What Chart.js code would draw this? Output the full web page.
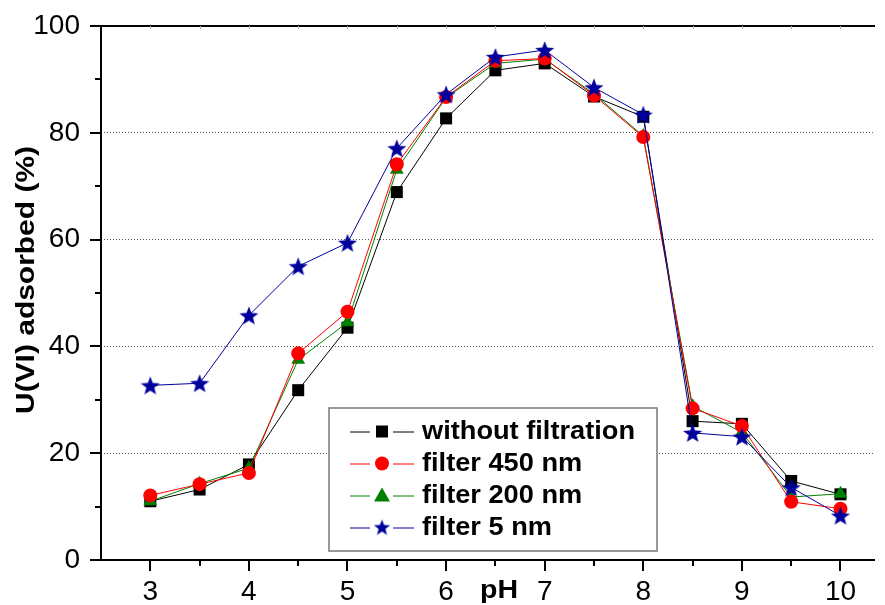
<!DOCTYPE html>
<html>
<head>
<meta charset="utf-8">
<script src="https://cdn.jsdelivr.net/npm/chart.js@4.4.1/dist/chart.umd.min.js"></script>
<style>
  html, body { margin: 0; padding: 0; background: #fff; }
  #wrap { width: 885px; height: 605px; }
</style>
</head>
<body>
<div id="wrap"><canvas id="adsChart"></canvas></div>
<script>
// pH values (x axis)
const phValues = [3, 3.5, 4, 4.5, 5, 5.5, 6, 6.5, 7, 7.5, 8, 8.5, 9, 9.5, 10];

// U(VI) adsorbed (%) for each series
const withoutFiltration = [11.0, 13.2, 17.9, 31.8, 43.5, 68.9, 82.7, 91.7, 93.0, 86.8, 83.0, 26.0, 25.5, 14.8, 12.3];
const filter450 = [12.1, 14.2, 16.3, 38.7, 46.5, 74.1, 86.7, 93.5, 93.9, 87.0, 79.2, 28.4, 25.1, 10.9, 9.6];
const filter200 = [11.0, 14.3, 17.2, 37.5, 44.5, 73.1, 86.6, 93.0, 93.8, 87.3, 79.4, 28.8, 23.9, 11.8, 12.4];
const filter5 = [32.7, 33.1, 45.8, 55.0, 59.4, 77.1, 87.2, 94.2, 95.5, 88.5, 83.4, 23.8, 23.1, 13.6, 8.3];

// axis ticks
const xLabels = [3, 4, 5, 6, 7, 8, 9, 10];
const yLabels = [0, 20, 40, 60, 80, 100];

const seriesNames = ['without filtration', 'filter 450 nm', 'filter 200 nm', 'filter 5 nm'];

function toPoints(ys) {
    return ys.map((y, i) => ({ x: phValues[i], y: y }));
}

// filled five point star (Chart.js 'star' is only an outline asterisk)
function makeStar(size, color) {
    const c = document.createElement('canvas');
    c.width = size; c.height = size;
    const g = c.getContext('2d');
    const cx = size / 2, cy = size / 2 + 1, R = size / 2, r = R * 0.42;
    g.beginPath();
    for (let i = 0; i < 10; i++) {
        const a = -Math.PI / 2 + i * Math.PI / 5;
        const rad = i % 2 === 0 ? R : r;
        g.lineTo(cx + rad * Math.cos(a), cy + rad * Math.sin(a));
    }
    g.closePath();
    g.fillStyle = color;
    g.fill();
    return c;
}
const starBig = makeStar(20, '#00009C');
const starSmall = makeStar(17, '#00009C');

// draws the little legend markers
function drawMarker(ctx, kind, x, y, color) {
    ctx.save();
    ctx.fillStyle = color;
    ctx.beginPath();
    if (kind === 'rect') {
        ctx.rect(x - 6, y - 6, 12, 12);
        ctx.fill();
    } else if (kind === 'circle') {
        ctx.arc(x, y, 7, 0, Math.PI * 2);
        ctx.fill();
    } else if (kind === 'triangle') {
        ctx.moveTo(x, y - 8);
        ctx.lineTo(x + 8, y + 6);
        ctx.lineTo(x - 8, y + 6);
        ctx.closePath();
        ctx.fill();
    } else {
        ctx.drawImage(starSmall, x - 8.5, y - 9);
    }
    ctx.restore();
}

// text squeezed/stretched to a wanted width (the original font is a wide Arial)
function fitText(ctx, text, x, y, width) {
    const w = ctx.measureText(text).width;
    ctx.save();
    ctx.translate(x, y);
    ctx.scale(width / w, 1);
    ctx.fillText(text, 0, 0);
    ctx.restore();
}

const legendKinds = ['rect', 'circle', 'triangle', 'star'];
const legendColors = ['#000000', '#FF0000', '#008000', '#00009C'];
const FONT = '"Liberation Sans", Arial, sans-serif';

// custom plugin: axis ticks, titles, legend box, frame
const decorPlugin = {
    id: 'decor',
    afterDraw(chart) {
        const ctx = chart.ctx;
        const xs = chart.scales.x, ys = chart.scales.y;
        const a = chart.chartArea;
        ctx.save();
        ctx.strokeStyle = '#000';
        ctx.lineWidth = 2;
        // axis lines
        ctx.beginPath();
        ctx.moveTo(a.left, a.top);
        ctx.lineTo(a.left, a.bottom);
        ctx.lineTo(a.right, a.bottom);
        ctx.moveTo(a.left, a.top);
        ctx.lineTo(a.right, a.top);
        ctx.stroke();
        // x ticks (major and minor)
        ctx.beginPath();
        for (let v = 3; v <= 10.01; v += 0.5) {
            const px = Math.round(xs.getPixelForValue(v));
            const len = Number.isInteger(v) ? 11 : 6;
            ctx.moveTo(px, a.bottom);
            ctx.lineTo(px, a.bottom + len);
        }
        // y ticks
        for (let v = 0; v <= 100; v += 10) {
            const py = Math.round(ys.getPixelForValue(v));
            const len = v % 20 === 0 ? 11 : 6;
            ctx.moveTo(a.left, py);
            ctx.lineTo(a.left - len, py);
        }
        ctx.stroke();
        // top minor ticks (faint)
        ctx.strokeStyle = '#aaa';
        ctx.lineWidth = 1;
        ctx.beginPath();
        for (let v = 3; v <= 10.01; v += 0.5) {
            const px = Math.round(xs.getPixelForValue(v)) + 0.5;
            ctx.moveTo(px, a.top);
            ctx.lineTo(px, a.top + 3);
        }
        ctx.stroke();

        // axis titles
        ctx.fillStyle = '#000';
        ctx.textAlign = 'center';
        ctx.textBaseline = 'middle';
        ctx.font = 'bold 26px ' + FONT;
        fitText(ctx, 'pH', 499, 591, 38);
        ctx.save();
        ctx.translate(27, 280);
        ctx.rotate(-Math.PI / 2);
        ctx.font = 'bold 25px ' + FONT;
        fitText(ctx, 'U(VI) adsorbed (%)', 0, 0, 268);
        ctx.restore();

        // legend box
        const bx = 329, by = 408, bw = 328, bh = 143;
        ctx.fillStyle = '#fff';
        ctx.fillRect(bx, by, bw, bh);
        ctx.strokeStyle = '#777';
        ctx.lineWidth = 1.5;
        ctx.strokeRect(bx, by, bw, bh);
        ctx.font = 'bold 25px ' + FONT;
        ctx.textAlign = 'left';
        const rowY = [431.5, 463.5, 495.5, 527.5];
        const scaleX = 213 / ctx.measureText(seriesNames[0]).width;
        for (let i = 0; i < seriesNames.length; i++) {
            const y = rowY[i];
            ctx.strokeStyle = legendColors[i];
            ctx.lineWidth = 1;
            ctx.beginPath();
            ctx.moveTo(350, y + 0.5); ctx.lineTo(370, y + 0.5);
            ctx.moveTo(393, y + 0.5); ctx.lineTo(414, y + 0.5);
            ctx.stroke();
            drawMarker(ctx, legendKinds[i], 382, y, legendColors[i]);
            ctx.fillStyle = '#000';
            fitText(ctx, seriesNames[i], 422, y + 1, ctx.measureText(seriesNames[i]).width * scaleX);
        }
        ctx.restore();
    }
};

const ctx = document.getElementById('adsChart').getContext('2d');

const adsChart = new Chart(ctx, {
    type: 'line',
    data: {
        datasets: [
            {
                label: seriesNames[0],
                data: toPoints(withoutFiltration),
                borderColor: '#000000',
                backgroundColor: '#000000',
                pointStyle: 'rect',
                pointRadius: 8.5,
                order: 4
            },
            {
                label: seriesNames[1],
                data: toPoints(filter450),
                borderColor: '#FF0000',
                backgroundColor: '#FF0000',
                pointStyle: 'circle',
                pointRadius: 7,
                order: 2
            },
            {
                label: seriesNames[2],
                data: toPoints(filter200),
                borderColor: '#008000',
                backgroundColor: '#008000',
                pointStyle: 'triangle',
                pointRadius: 8,
                order: 3
            },
            {
                label: seriesNames[3],
                data: toPoints(filter5),
                borderColor: '#00009C',
                backgroundColor: '#00009C',
                pointStyle: starBig,
                pointRadius: 10,
                order: 1
            }
        ]
    },
    options: {
        responsive: true,
        maintainAspectRatio: false,
        animation: false,
        events: [],
        layout: { padding: { top: 26, left: 0, right: 0, bottom: 0 } },
        elements: {
            line: { borderWidth: 1, tension: 0 },
            point: { borderWidth: 0, hoverRadius: 0 }
        },
        plugins: {
            legend: { display: false },
            tooltip: { enabled: false }
        },
        scales: {
            x: {
                type: 'linear',
                min: 2.5,
                max: 10.35,
                afterFit(scale) {
                    scale.height = 45;
                    scale.paddingLeft = 0;
                    scale.paddingRight = 0;
                },
                afterBuildTicks(scale) {
                    scale.ticks = xLabels.map(v => ({ value: v }));
                },
                border: { display: false },
                grid: { display: false, drawTicks: false },
                ticks: {
                    padding: 15,
                    color: '#000',
                    font: { family: FONT, size: 28 },
                    maxRotation: 0,
                    autoSkip: false
                }
            },
            y: {
                min: 0,
                max: 100,
                afterFit(scale) {
                    scale.width = 101;
                    scale.paddingTop = 0;
                    scale.paddingBottom = 0;
                },
                afterBuildTicks(scale) {
                    scale.ticks = yLabels.map(v => ({ value: v }));
                },
                border: { display: false, dash: [1, 2] },
                grid: {
                    drawTicks: false,
                    color: c => (c.tick && (c.tick.value === 0 || c.tick.value === 100)) ? 'rgba(0,0,0,0)' : '#555',
                    lineWidth: 1
                },
                ticks: {
                    padding: 21,
                    color: '#000',
                    font: { family: FONT, size: 28 }
                }
            }
        }
    },
    plugins: [decorPlugin]
});
</script>
</body>
</html>
